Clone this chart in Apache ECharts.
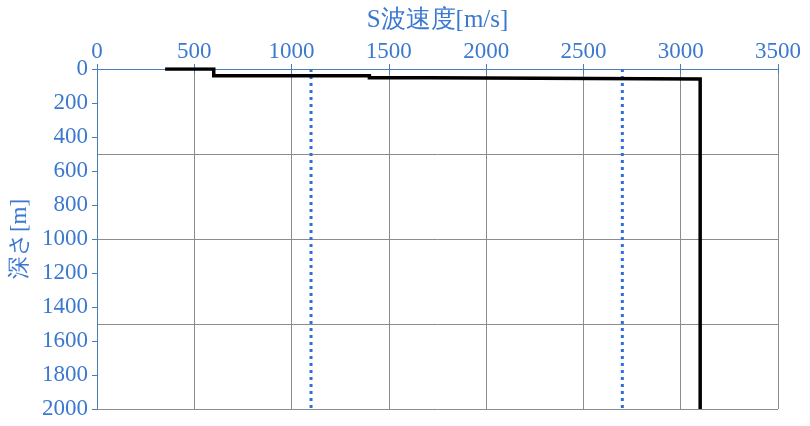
<!DOCTYPE html>
<html><head><meta charset="utf-8">
<script src="https://cdn.jsdelivr.net/npm/echarts@6/dist/echarts.min.js"></script>
<style>html,body{margin:0;padding:0;background:#fff}#c{width:810px;height:426px}</style>
</head><body><div id="c"></div>
<script>
const velocity = [350, 600, 600, 1400, 1400, 1700, 1700, 3100, 3100];
const depth = [0, 0, 39, 39, 51, 51, 59, 59, 2000];
const refVelocities = [1100, 2700];
const refDepthRange = [0, 2000];
const xTitle = 'S波速度[m/s]';
const yTitle = '深さ[m]';

const blue = '#3b78d0';
const axisBlue = '#4a7ebb';
const grey = '#8c8c8c';
const font = '"Liberation Serif","DejaVu Serif",serif';
const plain = v => String(v);

const chart = echarts.init(document.getElementById('c'));
const series = [{
  type: 'line', xAxisIndex: 0, yAxisIndex: 0, showSymbol: false, symbol: 'none',
  data: velocity.map((v, i) => [v, depth[i]]),
  lineStyle: { color: '#000', width: 3.5, join: 'miter' }, z: 5, animation: false
}];
refVelocities.forEach(v => series.push({
  type: 'line', xAxisIndex: 0, yAxisIndex: 0, showSymbol: false, symbol: 'none',
  data: refDepthRange.map(d => [v, d]),
  lineStyle: { color: '#2f6fd6', width: 3, type: [3, 4] }, z: 4, animation: false
}));

chart.setOption({
  animation: false,
  grid: { left: 97, right: 32, top: 69, bottom: 17 },
  xAxis: [{
    type: 'value', position: 'top', min: 0, max: 3500, interval: 500,
    name: xTitle, nameLocation: 'middle', nameGap: 36,
    nameTextStyle: { color: blue, fontFamily: font, fontSize: 25 },
    axisLabel: { color: blue, fontFamily: font, fontSize: 23, margin: 6, formatter: plain },
    axisLine: { show: true, lineStyle: { color: axisBlue, width: 1 } },
    axisTick: { show: true, inside: false, length: 5, lineStyle: { color: axisBlue } },
    splitLine: { show: true, lineStyle: { color: grey, width: 1 } }
  }, {
    type: 'value', position: 'bottom', min: 0, max: 3500, interval: 500,
    axisLabel: { show: false },
    axisLine: { show: true, lineStyle: { color: axisBlue, width: 1 } },
    axisTick: { show: true, inside: false, length: 5, lineStyle: { color: axisBlue } },
    splitLine: { show: false }
  }],
  yAxis: [{
    type: 'value', position: 'left', inverse: true, min: 0, max: 2000, interval: 200,
    name: yTitle, nameLocation: 'middle', nameGap: 66, nameRotate: 90,
    nameTextStyle: { color: blue, fontFamily: font, fontSize: 23 },
    axisLabel: { color: blue, fontFamily: font, fontSize: 23, margin: 9, formatter: plain },
    axisLine: { show: true, lineStyle: { color: axisBlue, width: 1 } },
    axisTick: { show: true, inside: false, length: 5, lineStyle: { color: axisBlue } },
    splitLine: { show: false }
  }, {
    type: 'value', position: 'right', inverse: true, min: 0, max: 2000, interval: 500,
    axisLabel: { show: false }, axisLine: { show: false }, axisTick: { show: false },
    splitLine: { show: true, lineStyle: { color: grey, width: 1 } }
  }],
  series: series
});
</script>
</body></html>
